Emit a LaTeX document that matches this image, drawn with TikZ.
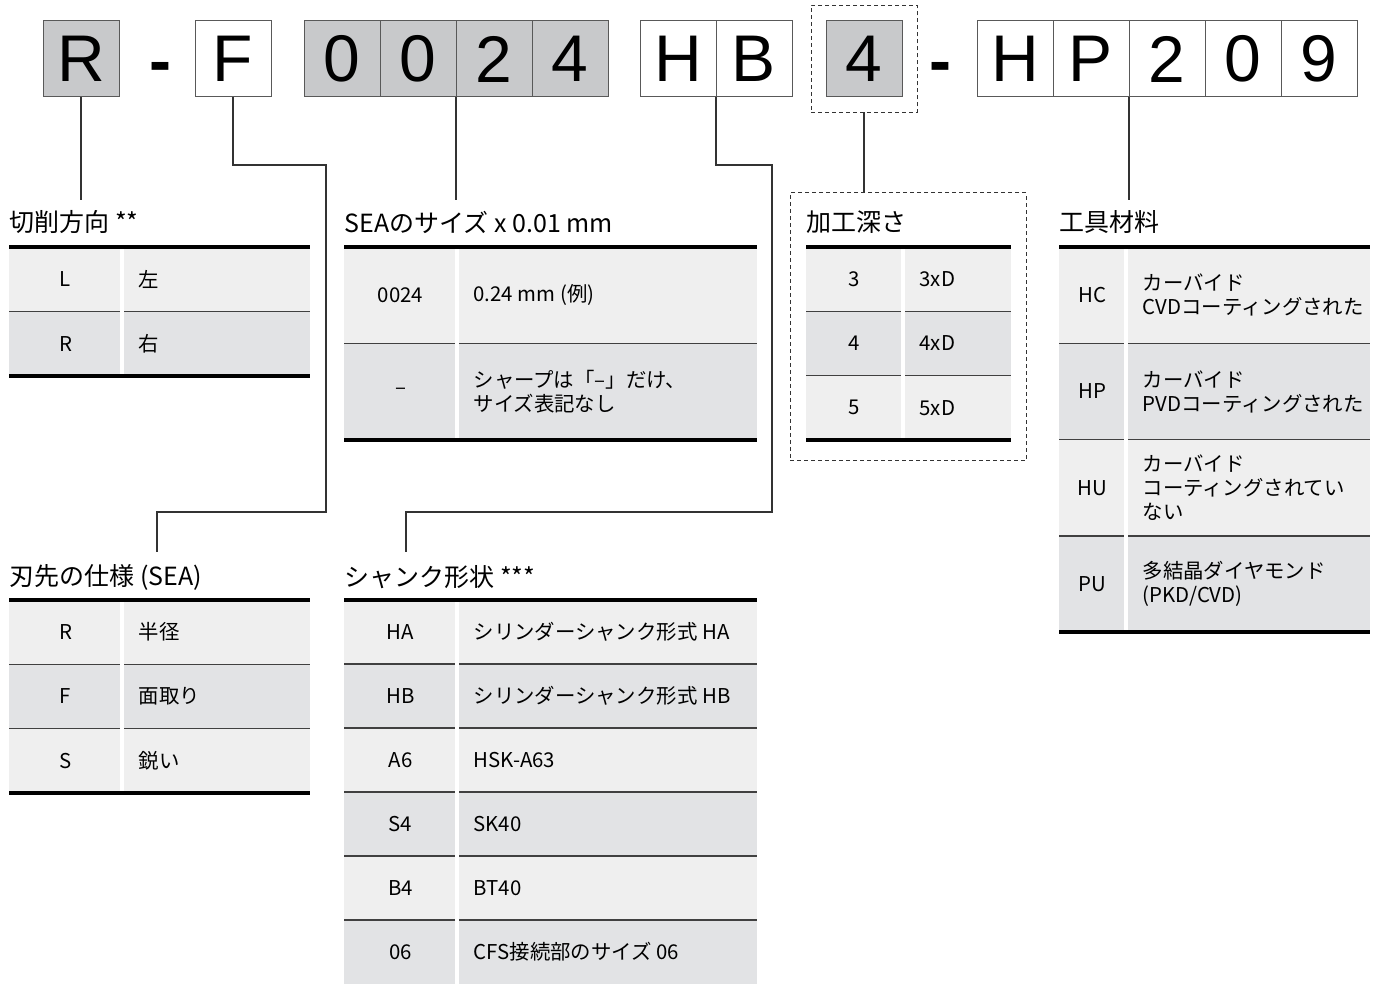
\documentclass[tikz,border=0pt]{standalone}
\usepackage{fontspec}
\setmainfont{Noto Sans CJK JP}
\newfontfamily\bigfont{Liberation Sans}
\usepackage{tikz}
\usetikzlibrary{positioning}

\definecolor{boxgray}{HTML}{C8C9CB}
\definecolor{rowlight}{HTML}{EFEFEF}
\definecolor{rowdark}{HTML}{E2E3E5}

% one code table: name, x left, x split, x right, y top, row height, rows code/desc
\newcommand{\codetable}[7]{%
  \foreach \c/\d [count=\i from 0] in {#7} {
    \pgfmathsetmacro{\ya}{#5+\i*#6}
    \pgfmathsetmacro{\yb}{\ya+#6}
    \pgfmathsetmacro{\ym}{\ya+#6/2}
    \ifodd\i \def\rowc{rowdark}\else \def\rowc{rowlight}\fi
    \fill[\rowc] (#2,\ya) rectangle (#3-2,\yb);
    \fill[\rowc] (#3+2,\ya) rectangle (#4,\yb);
    \ifnum\i>0
      \draw[rowline] (#2,\ya) -- (#3-2,\ya) (#3+2,\ya) -- (#4,\ya);
    \fi
    \node[code] (#1-c\i) at ({(#2+#3)/2},\ym) {\c};
    \node[desc] (#1-d\i) at (#3+16,\ym) {\d};
  }
}

\begin{document}
\begin{tikzpicture}[x=0.5pt,y=-0.5pt,semithick]
\tikzstyle{letter}=[draw=black!65,line width=0.5pt,fill=white,minimum width=38pt,minimum height=38pt,inner sep=0pt,outer sep=0pt,font=\bigfont\fontsize{33}{33}\selectfont]
\tikzstyle{gbox}=[fill=boxgray]
\tikzstyle{hyph}=[inner sep=0pt,font=\bigfont\bfseries\fontsize{33}{33}\selectfont]
\tikzstyle{dashbox}=[draw=black!80,line width=0.5pt,dash pattern=on 2pt off 1.5pt,inner sep=0pt,outer sep=0pt]
\tikzstyle{conn}=[draw=black!80,line width=0.6pt]
\tikzstyle{title}=[anchor=west,inner sep=0pt,font=\fontsize{12.5}{15}\selectfont]
\tikzstyle{code}=[inner sep=0pt,font=\fontsize{10.2}{12}\selectfont]
\tikzstyle{desc}=[anchor=west,align=left,inner sep=0pt,font=\fontsize{10.2}{12}\selectfont]
\tikzstyle{rowline}=[draw=black!75,line width=0.7pt]
\tikzstyle{rule}=[draw=black,line width=1.6pt]

\useasboundingbox (0,0) rectangle (1378,984);

% code letters
\node[letter,gbox,anchor=north west] (bR) at (43,21) {R};
\node[hyph] (h1) at (160,73) {-};
\node[letter,anchor=north west] (bF) at (195,21) {F};
\node[letter,gbox,anchor=north west] (b0a) at (304,21) {0};
\node[letter,gbox,right=0pt of b0a] (b0b) {0};
\node[letter,gbox,right=0pt of b0b] (b2a) {2};
\node[letter,gbox,right=0pt of b2a] (b4a) {4};
\node[letter,anchor=north west] (bH1) at (640,21) {H};
\node[letter,right=0pt of bH1] (bB) {B};
\node[letter,gbox,anchor=north west] (b4d) at (826,21) {4};
\node[dashbox,minimum width=53pt,minimum height=53.5pt] (d4) at (b4d) {};
\node[hyph] (h2) at (940,73) {-};
\node[letter,anchor=north west] (bH2) at (977,21) {H};
\node[letter,right=0pt of bH2] (bP) {P};
\node[letter,right=0pt of bP] (b2b) {2};
\node[letter,right=0pt of b2b] (b0c) {0};
\node[letter,right=0pt of b0c] (b9) {9};

% titles
\node[title] (tDir) at (9,222) {切削方向 **};
\node[title] (tSize) at (344,222) {SEAのサイズ x 0.01 mm};
\node[title] (tDepth) at (806,222) {加工深さ};
\node[title] (tMat) at (1059,222) {工具材料};
\node[title] (tSEA) at (9,577) {刃先の仕様 (SEA)};
\node[title] (tShank) at (344,577) {シャンク形状 ***};
\node[dashbox,anchor=north west,minimum width=118pt,minimum height=134pt] (dDepth) at (790,193) {};

% connector ends and bends
\coordinate (eDir) at (81,200);
\coordinate (eSize) at (456,200);
\coordinate (eMat) at (1129,200);
\coordinate (kF1) at (326,165);
\coordinate (kF2) at (157,512);
\coordinate (eSEA) at (157,552);
\coordinate (kB1) at (772,165);
\coordinate (kB2) at (406,512);
\coordinate (eShank) at (406,552);

\draw[conn] (bR.south) -- (eDir);
\draw[conn] (b0b.south east) -- (eSize);
\draw[conn] (bP.south east) -- (eMat);
\draw[conn] (d4.south) -- (d4.south |- dDepth.north);
\draw[conn] (bF.south) |- (kF1) |- (kF2) -- (eSEA);
\draw[conn] (bH1.south east) |- (kB1) |- (kB2) -- (eShank);

% tables
\codetable{dir}{9}{122}{310}{247}{64.5}{L/左, R/右}
\codetable{size}{344}{457}{757}{247}{96.5}{0024/0.24 mm (例), –/{シャープは「–」だけ、\\サイズ表記なし}}
\codetable{depth}{806}{903}{1011}{247}{64.3}{3/3xD, 4/4xD, 5/5xD}
\codetable{mat}{1059}{1126}{1370}{247}{96.3}{HC/{カーバイド\\CVDコーティングされた}, HP/{カーバイド\\PVDコーティングされた}, HU/{カーバイド\\コーティングされてい\\ない}, PU/{多結晶ダイヤモンド\\(PKD/CVD)}}
\codetable{sea}{9}{122}{310}{600}{64.3}{R/半径, F/面取り, S/鋭い}
\codetable{shank}{344}{457}{757}{600}{64}{HA/シリンダーシャンク形式 HA, HB/シリンダーシャンク形式 HB, A6/HSK-A63, S4/SK40, B4/BT40, 06/CFS接続部のサイズ 06}

\draw[rule] (9,247) -- (310,247) (9,376) -- (310,376);
\draw[rule] (344,247) -- (757,247) (344,440) -- (757,440);
\draw[rule] (806,247) -- (1011,247) (806,440) -- (1011,440);
\draw[rule] (1059,247) -- (1370,247) (1059,632) -- (1370,632);
\draw[rule] (9,600) -- (310,600) (9,793) -- (310,793);
\draw[rule] (344,600) -- (757,600);
\end{tikzpicture}
\end{document}
